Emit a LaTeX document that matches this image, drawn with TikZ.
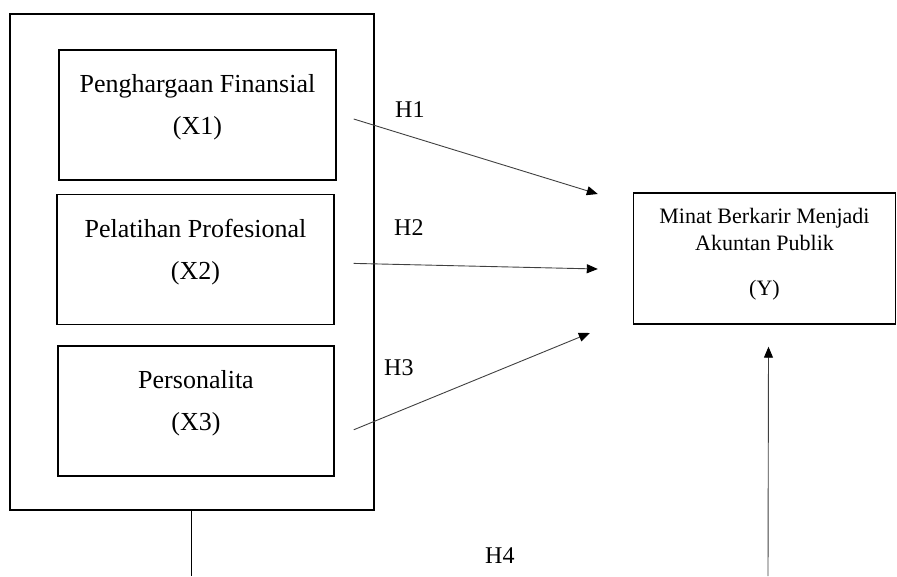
\documentclass[tikz,border=0pt]{standalone}
\usepackage{fontspec}
\setmainfont{Liberation Serif}
\usetikzlibrary{arrows.meta, positioning, calc}

\begin{document}
\begin{tikzpicture}[x=1pt,y=-1pt,>={Triangle[length=11pt,width=9pt,color=black]},
  varbox/.style={draw,line width=1.4pt,minimum width=277pt,minimum height=130pt,inner sep=0pt},
  vartext/.style={align=center,inner sep=0pt,font=\fontsize{26}{42}\selectfont},
  hyplabel/.style={anchor=base west,inner sep=0pt,font=\fontsize{24}{28}\selectfont},
  hyparrow/.style={->,line width=0.9pt,draw=black!75},
%scale=0.7, transform shape
]
\useasboundingbox (0,0) rectangle (897,576);

\node[draw,line width=1.4pt,minimum width=364pt,minimum height=496pt,inner sep=0pt] (nOuter) at (192,262) {};

\node[varbox] (nX1) at (197.5,115) {};
\node[varbox,below=13pt of nX1,xshift=-2pt] (nX2) {};
\node[varbox,below=20pt of nX2,minimum width=276pt,xshift=0.5pt] (nX3) {};

\node[draw,line width=1.4pt,minimum width=262pt,minimum height=131pt,inner sep=0pt] (nY) at (764.5,258.5) {};

\node[vartext] (tX1) at ($(nX1)+(0,-8)$) {Penghargaan Finansial\\(X1)};
\node[vartext] (tX2) at ($(nX2)+(0,-7.5)$) {Pelatihan Profesional\\(X2)};
\node[vartext] (tX3) at ($(nX3)+(0,-7.5)$) {Personalita\\(X3)};
\node[vartext,font=\fontsize{22}{27}\selectfont] (tY) at ($(nY)+(0,-4.5)$)
  {Minat Berkarir Menjadi\\Akuntan Publik\\[18pt](Y)};

\node[hyplabel] (lH1) at (395,117) {H1};
\node[hyplabel] (lH2) at (394,235) {H2};
\node[hyplabel] (lH3) at (384,375) {H3};
\node[hyplabel] (lH4) at (485,563) {H4};

\draw[hyparrow] ($(nX1.east)+(17,4)$) -- ($(nY.west)+(-35,-64.5)$);
\draw[hyparrow] ($(nX2.east)+(19,4)$) -- ($(nY.west)+(-35,10.5)$);
\draw[hyparrow] ($(nX3.east)+(19,19)$) -- ($(nY.west)+(-43,74.5)$);

\coordinate (cBotL) at (191,576);
\coordinate (cBotR) at (768,576);
\draw[line width=0.9pt] (nOuter.south -| cBotL) -- (cBotL);
\draw[hyparrow] (cBotR) -- ($(nY.south)+(4,22)$);
\end{tikzpicture}
\end{document}
